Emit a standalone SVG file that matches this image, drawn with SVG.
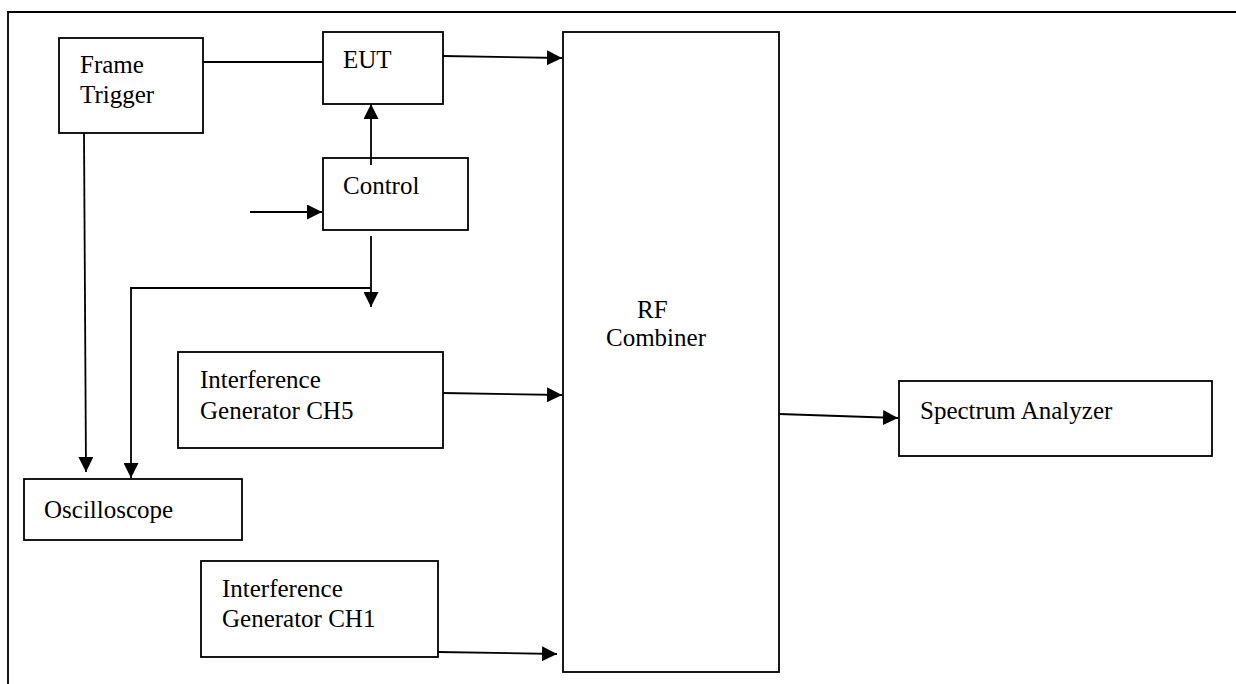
<svg xmlns="http://www.w3.org/2000/svg" width="1236" height="684" viewBox="0 0 1236 684">
<defs>
<style>
.box{fill:#fff;stroke:#000;stroke-width:1.8}
.ln{fill:none;stroke:#000;stroke-width:1.8}
.t{font-family:"Liberation Serif","Times New Roman",serif;font-size:25px;fill:#000}
</style>
<marker id="ah" markerUnits="userSpaceOnUse" markerWidth="15" markerHeight="15" refX="15" refY="7.5" orient="auto">
<path d="M0,0 L15,7.5 L0,15 Z" fill="#000"/>
</marker>
</defs>
<rect width="1236" height="684" fill="#fff"/>
<path class="ln" d="M8,684 V12 H1236"/>
<g id="frame-trigger"><rect class="box" x="59" y="38" width="144" height="95"/><text class="t" x="80" y="73">Frame</text><text class="t" x="80" y="103">Trigger</text></g>
<g id="eut"><rect class="box" x="323" y="32" width="120" height="72"/><text class="t" x="343" y="68">EUT</text></g>
<g id="control"><rect class="box" x="323" y="158" width="145" height="72"/><text class="t" x="343" y="194">Control</text></g>
<g id="rf-combiner"><rect class="box" x="563" y="32" width="216" height="640"/><text class="t" x="637" y="318">RF</text><text class="t" x="606" y="346">Combiner</text></g>
<g id="ig-ch5"><rect class="box" x="178" y="352" width="265" height="96"/><text class="t" x="200" y="388">Interference</text><text class="t" x="200" y="419">Generator CH5</text></g>
<g id="oscilloscope"><rect class="box" x="24" y="479" width="218" height="61"/><text class="t" x="44" y="518">Oscilloscope</text></g>
<g id="ig-ch1"><rect class="box" x="201" y="561" width="237" height="96"/><text class="t" x="222" y="597">Interference</text><text class="t" x="222" y="627">Generator CH1</text></g>
<g id="spectrum-analyzer"><rect class="box" x="899" y="381" width="313" height="75"/><text class="t" x="920" y="419">Spectrum Analyzer</text></g>
<g id="connectors">
<path class="ln" d="M203,62 H323"/>
<path class="ln" d="M443,56 L562,58" marker-end="url(#ah)"/>
<path class="ln" d="M371,165 V104" marker-end="url(#ah)"/>
<path class="ln" d="M250,212 H322" marker-end="url(#ah)"/>
<path class="ln" d="M371,236 V307" marker-end="url(#ah)"/>
<path class="ln" d="M371,288 H131 V478" marker-end="url(#ah)"/>
<path class="ln" d="M84,133 L86,472" marker-end="url(#ah)"/>
<path class="ln" d="M443,393 L562,395" marker-end="url(#ah)"/>
<path class="ln" d="M779,414 L898,418" marker-end="url(#ah)"/>
<path class="ln" d="M438,652 L557,654" marker-end="url(#ah)"/>
</g>
</svg>
